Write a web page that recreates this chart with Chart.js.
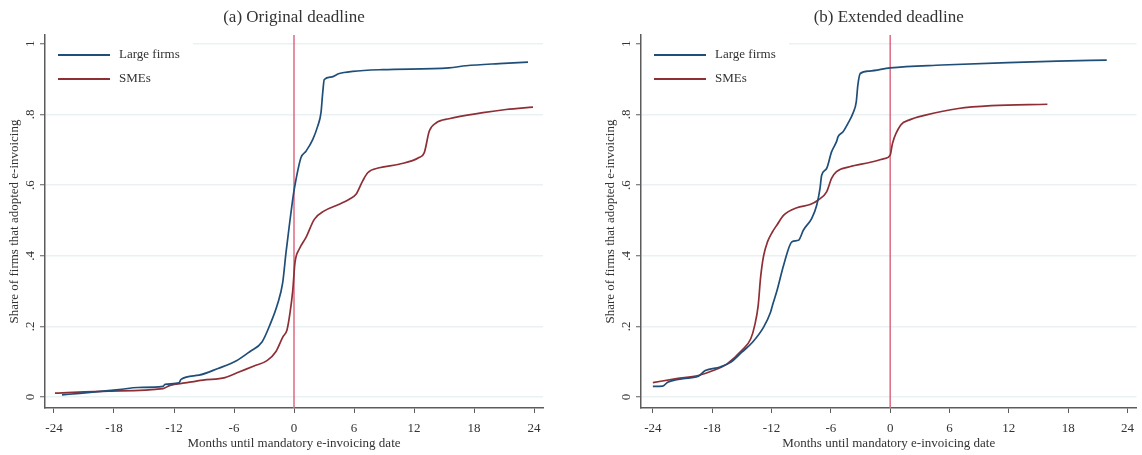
<!DOCTYPE html>
<html>
<head>
<meta charset="utf-8">
<script src="https://cdn.jsdelivr.net/npm/chart.js@4"></script>
<style>
  body { margin: 0; background: #fff; }
  #wrap { position: relative; width: 1142px; height: 455px; }
  canvas { position: absolute; top: 0; }
</style>
</head>
<body>
<div id="wrap">
  <canvas id="chartA" width="571" height="455" style="left:0"></canvas>
  <canvas id="chartB" width="571" height="455" style="left:571px"></canvas>
</div>
<script>
// tick labels
const xTicks = [-24, -18, -12, -6, 0, 6, 12, 18, 24];
const yTicks = [0, 0.2, 0.4, 0.6, 0.8, 1];
const yLabels = ['0', '.2', '.4', '.6', '.8', '1'];

// (a) Original deadline - months until deadline / share adopted
const origLargeX = [-23.2, -22.5, -20.4, -17.5, -15.6, -13.1, -12.9, -11.5, -11.3, -9.5, -7.6, -5.8, -4.4, -3.2, -2.4, -1.63, -1.13, -0.8, -0.47, -0.03, 0.2, 0.7, 1.2, 1.87, 2.37, 2.7, 2.87, 3.03, 3.7, 4.53, 5.87, 8.87, 15.5, 17.2, 20.5, 23.4];
const origLargeY = [0.006, 0.008, 0.013, 0.021, 0.027, 0.030, 0.036, 0.040, 0.050, 0.062, 0.081, 0.102, 0.129, 0.156, 0.205, 0.265, 0.324, 0.409, 0.485, 0.579, 0.616, 0.678, 0.696, 0.729, 0.767, 0.805, 0.861, 0.899, 0.906, 0.916, 0.922, 0.927, 0.932, 0.938, 0.944, 0.948];
const origSmeX = [-23.9, -18.5, -13.1, -12.4, -10.9, -9.1, -6.9, -5.5, -4, -2.7, -1.8, -1.1, -0.7, -0.4, -0.13, 0.1, 0.53, 1.2, 2.03, 3.03, 4.53, 5.53, 6.2, 6.87, 7.37, 8.53, 10.5, 12.5, 13.03, 13.53, 14.2, 15.5, 18.9, 21.2, 23.9];
const origSmeY = [0.011, 0.017, 0.024, 0.033, 0.040, 0.048, 0.055, 0.071, 0.088, 0.103, 0.129, 0.171, 0.19, 0.238, 0.30, 0.381, 0.419, 0.452, 0.503, 0.527, 0.546, 0.56, 0.574, 0.612, 0.635, 0.649, 0.659, 0.678, 0.692, 0.753, 0.776, 0.788, 0.805, 0.814, 0.821];

// (b) Extended deadline
const extLargeX = [-24, -23, -22.5, -21.6, -20.1, -19.4, -18.7, -17.2, -16.1, -15, -13.9, -12.8, -12.1, -11.9, -11.43, -10.77, -9.93, -9.27, -8.77, -7.93, -7.43, -7.1, -6.93, -6.43, -5.93, -5.43, -5.27, -4.77, -4.27, -3.77, -3.43, -3.27, -3.03, -2.1, 0, 5.23, 11.9, 16.9, 21.9];
const extLargeY = [0.030, 0.031, 0.042, 0.049, 0.055, 0.059, 0.075, 0.085, 0.099, 0.127, 0.156, 0.198, 0.24, 0.26, 0.303, 0.374, 0.44, 0.444, 0.473, 0.506, 0.543, 0.59, 0.628, 0.647, 0.694, 0.723, 0.737, 0.751, 0.775, 0.803, 0.836, 0.883, 0.916, 0.923, 0.932, 0.94, 0.947, 0.951, 0.954];
const extSmeX = [-24, -21.6, -19.4, -17.9, -16.5, -15, -14.1, -13.7, -13.35, -13.1, -12.8, -12.4, -11.9, -11.43, -10.77, -9.43, -8.1, -7.27, -6.43, -5.93, -5.43, -4.1, -2.1, -0.6, 0, 0.23, 1.07, 1.9, 3.57, 6.9, 10.23, 15.9];
const extSmeY = [0.041, 0.052, 0.061, 0.075, 0.094, 0.132, 0.165, 0.203, 0.259, 0.34, 0.40, 0.44, 0.468, 0.488, 0.515, 0.536, 0.545, 0.558, 0.581, 0.619, 0.638, 0.652, 0.664, 0.675, 0.685, 0.718, 0.77, 0.784, 0.798, 0.817, 0.825, 0.829];

const FONT = '"Liberation Serif", "Times New Roman", serif';
const TEXT = '#333333';
const AXIS = '#5c5c5c';
const GRID = '#e9f1f3';
const BLUE = '#1f4e79';
const RED = '#8e2f36';
const DEADLINE = '#dc6a82';

function points(xs, ys) {
    return xs.map((x, i) => ({ x: x, y: ys[i] }));
}

// red vertical line at the deadline, behind the curves
const deadlinePlugin = {
    id: 'deadline',
    beforeDatasetsDraw(chart) {
        const { ctx, chartArea } = chart;
        const x = chart.scales.x.getPixelForValue(0);
        ctx.save();
        ctx.strokeStyle = DEADLINE;
        ctx.lineWidth = 1.5;
        ctx.beginPath();
        ctx.moveTo(x, chartArea.top);
        ctx.lineTo(x, chartArea.bottom);
        ctx.stroke();
        ctx.restore();
    }
};

// legend inside the plot + panel title
const boxPlugin = {
    id: 'box',
    afterDraw(chart) {
        const { ctx, chartArea } = chart;
        const left = chartArea.left;
        ctx.save();
        ctx.fillStyle = '#fff';
        ctx.fillRect(left + 1, chartArea.top + 3, 147, 55);
        ctx.font = '13px ' + FONT;
        ctx.textBaseline = 'middle';
        chart.data.datasets.forEach((ds, i) => {
            const y = 55 + i * 24;
            ctx.strokeStyle = ds.borderColor;
            ctx.lineWidth = 2;
            ctx.beginPath();
            ctx.moveTo(left + 13, y);
            ctx.lineTo(left + 65, y);
            ctx.stroke();
            ctx.fillStyle = TEXT;
            ctx.fillText(ds.label, left + 74, y);
        });
        ctx.font = '17px ' + FONT;
        ctx.textAlign = 'center';
        ctx.fillText(chart.options.panelTitle, (chartArea.left + chartArea.right) / 2, 18);
        ctx.restore();
    }
};

function buildChart(id, title, large, smes, xMin, xMax, padLeft, padRight) {
    return new Chart(document.getElementById(id), {
        type: 'line',
        data: {
            datasets: [
                { label: 'Large firms', data: large, borderColor: BLUE, borderWidth: 1.7, pointRadius: 0, cubicInterpolationMode: 'monotone' },
                { label: 'SMEs', data: smes, borderColor: RED, borderWidth: 1.7, pointRadius: 0, cubicInterpolationMode: 'monotone' }
            ]
        },
        options: {
            panelTitle: title,
            responsive: false,
            animation: false,
            layout: { padding: { left: padLeft, right: padRight, top: 35, bottom: 0 } },
            plugins: { legend: { display: false }, title: { display: false }, tooltip: { enabled: false } },
            scales: {
                x: {
                    type: 'linear',
                    min: xMin,
                    max: xMax,
                    afterBuildTicks: s => { s.ticks = xTicks.map(v => ({ value: v })); },
                    afterFit: s => { s.height = 47; },
                    grid: { drawOnChartArea: false, tickLength: 5, color: AXIS, lineWidth: 1 },
                    border: { display: true, color: AXIS, width: 1.5 },
                    ticks: { font: { family: FONT, size: 13 }, color: TEXT, padding: 8, maxRotation: 0, callback: v => String(v) },
                    title: { display: true, text: 'Months until mandatory e-invoicing date', font: { family: FONT, size: 13 }, color: TEXT, padding: { top: 0, bottom: 4 } }
                },
                y: {
                    min: -0.031,
                    max: 1.025,
                    afterBuildTicks: s => { s.ticks = yTicks.map(v => ({ value: v })); },
                    afterFit: s => { s.width = 45; },
                    grid: { color: GRID, lineWidth: 1.5, tickLength: 5, tickColor: AXIS, tickWidth: 1 },
                    border: { display: true, color: AXIS, width: 1.5 },
                    ticks: { font: { family: FONT, size: 13 }, color: TEXT, padding: 5, minRotation: 90, maxRotation: 90, crossAlign: 'center', callback: (v, i) => yLabels[i] },
                    title: { display: true, text: 'Share of firms that adopted e-invoicing', font: { family: FONT, size: 13 }, color: TEXT, padding: { top: 7, bottom: 0 } }
                }
            }
        },
        plugins: [deadlinePlugin, boxPlugin]
    });
}

buildChart('chartA', '(a) Original deadline', points(origLargeX, origLargeY), points(origSmeX, origSmeY), -24.9, 24.9, 0, 28);
buildChart('chartB', '(b) Extended deadline', points(extLargeX, extLargeY), points(extSmeX, extSmeY), -25.2, 24.9, 25, 0);
</script>
</body>
</html>
